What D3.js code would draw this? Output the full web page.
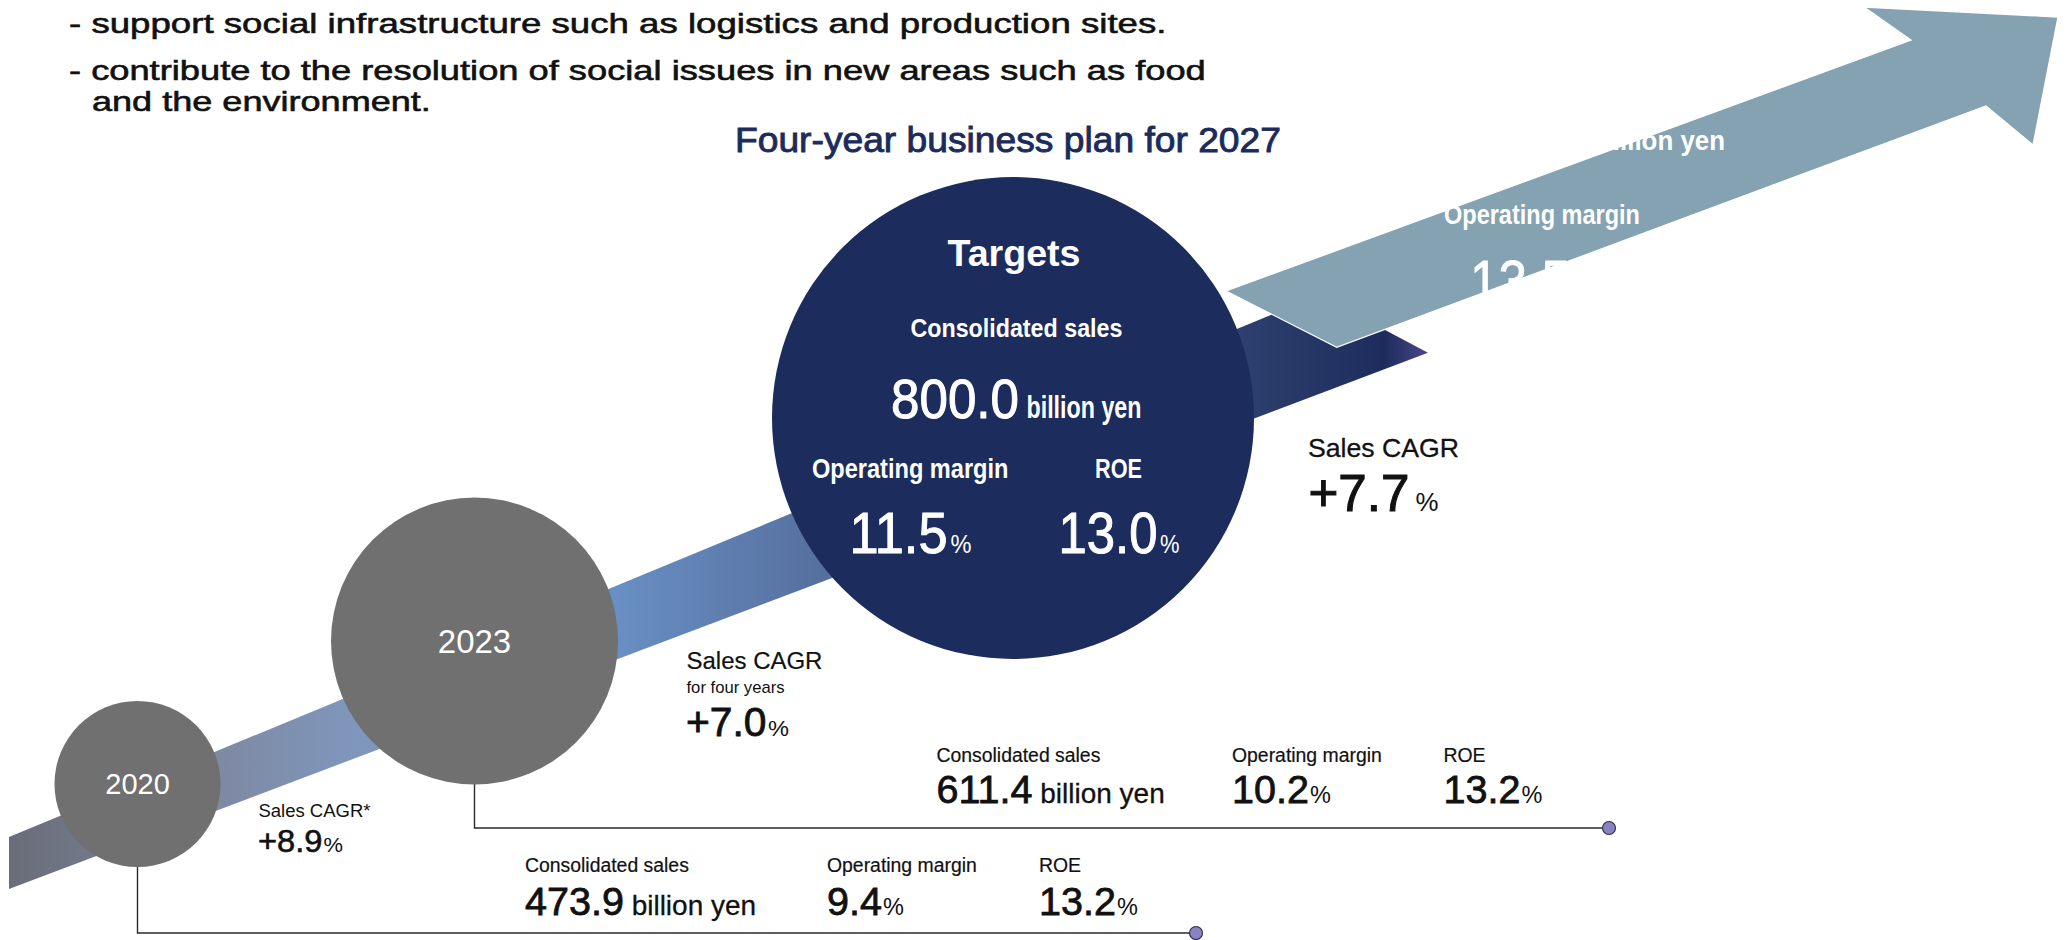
<!DOCTYPE html>
<html>
<head>
<meta charset="utf-8">
<script src="https://cdn.jsdelivr.net/npm/d3@7"></script>
<style>
  html, body { margin: 0; padding: 0; background: #fff; }
  svg { display: block; }
</style>
</head>
<body>
<svg id="chart" width="2066" height="940"></svg>
<script>
// ---------- data ----------
const stages = ["2020", "2023", "2027"];
const consolidatedSales = [473.9, 611.4, 800.0];   // billion yen
const operatingMargin = [9.4, 10.2, 11.5];         // %
const roe = [13.2, 13.2, 13.0];                    // %
const cagrLabels = ["Sales CAGR*", "Sales CAGR", "Sales CAGR"];
const cagrNotes = ["", "for four years", ""];
const cagrValues = [8.9, 7.0, 7.7];                // %
const metricNames = ["Consolidated sales", "Operating margin", "ROE"];
const salesUnit = "billion yen";
const bulletLines = [
  "- support social infrastructure such as logistics and production sites.",
  "- contribute to the resolution of social issues in new areas such as food",
  "and the environment."
];
const planTitle = "Four-year business plan for 2027";
const targetHeading = "Targets";
const visionLabels = ["billion yen", "Operating margin"];
const visionMargin = [13.5];

// ---------- setup ----------
const svg = d3.select("#chart");
const FONT = "'Liberation Sans', Arial, Helvetica, sans-serif";
const fmt1 = d3.format(".1f");
const fmtSigned = d3.format("+.1f");

// stage bubbles: centre and radius per stage
const cx = d3.scaleOrdinal().domain(stages).range([137.5, 474.5, 1013]);
const cy = d3.scaleOrdinal().domain(stages).range([784, 641, 418]);
const rad = d3.scaleOrdinal().domain(stages).range([83, 143.5, 241]);
const bubbleFill = d3.scaleOrdinal().domain(stages).range(["#707070", "#707070", "#1c2c5c"]);

// text helper; `width` squeezes or stretches the run horizontally to a set advance
function txt(parent, s, x, y, o = {}) {
  const t = parent.append("text")
    .attr("x", 0).attr("y", 0)
    .attr("font-family", FONT)
    .attr("font-size", o.size)
    .attr("fill", o.fill || "#111")
    .attr("text-anchor", o.anchor || "start")
    .text(s);
  if (o.weight) t.attr("font-weight", o.weight);
  if (o.stroke) t.attr("stroke", o.fill || "#111").attr("stroke-width", o.stroke).attr("paint-order", "stroke");
  let k = 1;
  if (o.width) {
    const natural = t.node().getComputedTextLength();
    if (natural > 0) k = o.width / natural;
  }
  t.attr("transform", `translate(${x},${y}) scale(${k},1)`);
  return t;
}

// ---------- heading text ----------
const head = svg.append("g");
txt(head, bulletLines[0], 69, 33, { size: 28.5, width: 1098, stroke: 0.6 });
txt(head, bulletLines[1], 69, 80, { size: 28.5, width: 1137, stroke: 0.6 });
txt(head, bulletLines[2], 92, 111, { size: 28.5, width: 339, stroke: 0.6 });
txt(head, planTitle, 735, 152, { size: 35.5, width: 546, fill: "#1c2b5b", stroke: 0.9 });

// ---------- growth ribbon ----------
const defs = svg.append("defs");
const grad = defs.append("linearGradient")
  .attr("id", "ribbonGrad")
  .attr("gradientUnits", "userSpaceOnUse")
  .attr("x1", 9).attr("y1", 0).attr("x2", 1428).attr("y2", 0);
const gx = d3.scaleLinear().domain([9, 1428]).range([0, 1]);
[[9, "#6a6d79"], [215, "#7e89a2"], [360, "#7f97bd"], [600, "#6a91c6"],
 [800, "#5873a2"], [1010, "#3d5488"], [1240, "#2e406f"], [1385, "#1d2c5c"], [1428, "#4b478c"]]
  .forEach(([x, c]) => grad.append("stop").attr("offset", gx(x)).attr("stop-color", c));

const ribbonTop = d3.scaleLinear().domain([9, 1319]).range([837, 295]);
const ribbonBottom = d3.scaleLinear().domain([9, 1428]).range([889, 352.7]);
const ribbonPts = [
  [9, ribbonTop(9)], [1319, ribbonTop(1319)],
  [1428, ribbonBottom(1428)], [9, ribbonBottom(9)]
];
svg.append("path")
  .attr("d", d3.line()(ribbonPts) + "Z")
  .attr("fill", "url(#ribbonGrad)");

// ---------- connectors from bubbles to metric rows ----------
const rowLayout = [
  { lineY: 933, dotX: 1196, labelY: 872.3, valueY: 915, cols: [525, 827, 1039] },
  { lineY: 828, dotX: 1609, labelY: 761.5, valueY: 803, cols: [936.5, 1232, 1443.5] }
];
const conn = svg.append("g");
rowLayout.forEach((r, i) => {
  const s = stages[i];
  conn.append("path")
    .attr("d", `M${cx(s)},${cy(s) + rad(s) - 2}V${r.lineY}H${r.dotX}`)
    .attr("fill", "none").attr("stroke", "#2a2a2a").attr("stroke-width", 1.4);
  conn.append("circle")
    .attr("cx", r.dotX).attr("cy", r.lineY).attr("r", 6.5)
    .attr("fill", "#8882c2").attr("stroke", "#2e2e3e").attr("stroke-width", 1.1);
});

// ---------- bubbles ----------
svg.append("g").selectAll("circle")
  .data(stages)
  .join("circle")
  .attr("cx", d => cx(d)).attr("cy", d => cy(d)).attr("r", d => rad(d))
  .attr("fill", d => bubbleFill(d));

// ---------- long-term arrow ----------
const arrowPts = [[1226, 291], [1911, 40], [1864, 7], [2058, 17], [2033, 145], [1986, 106], [1336.7, 347.3]];
svg.append("path")
  .attr("d", d3.line()(arrowPts) + "Z")
  .attr("fill", "#84a2b2")
  .attr("stroke", "#ffffff").attr("stroke-width", 1.3).attr("stroke-linejoin", "miter");

// white figures that show only over the arrow
const vision = svg.append("g");
txt(vision, visionLabels[0], 1725, 150, { size: 27, width: 128, fill: "#fff", anchor: "end", weight: "bold" });
txt(vision, visionLabels[1], 1444, 224, { size: 28, width: 196, fill: "#fff", weight: "bold" });
txt(vision, fmt1(visionMargin[0]), 1470, 300.6, { size: 56.7, width: 100, fill: "#fff", stroke: 0.8 });

// ---------- bubble captions ----------
const cap = svg.append("g");
txt(cap, stages[0], cx(stages[0]), 794, { size: 29, fill: "#fff", anchor: "middle" });
txt(cap, stages[1], cx(stages[1]), 653, { size: 33, fill: "#fff", anchor: "middle" });

// target bubble contents
const tgt = svg.append("g");
txt(tgt, targetHeading, 1014, 266, { size: 36, width: 133, fill: "#fff", anchor: "middle", weight: "bold" });
txt(tgt, metricNames[0], 910.5, 336.7, { size: 26, width: 212, fill: "#fff", weight: "bold" });
txt(tgt, fmt1(consolidatedSales[2]), 891, 417.7, { size: 55.5, width: 128, fill: "#fff", stroke: 1 });
txt(tgt, salesUnit, 1026.5, 417.7, { size: 30.5, width: 115, fill: "#fff", weight: "bold" });
txt(tgt, metricNames[1], 812, 478.3, { size: 28, width: 196.5, fill: "#fff", weight: "bold" });
txt(tgt, metricNames[2], 1095, 478.3, { size: 28, width: 47, fill: "#fff", weight: "bold" });
txt(tgt, fmt1(operatingMargin[2]), 849.5, 553.3, { size: 56.7, width: 98, fill: "#fff", stroke: 1 });
txt(tgt, "%", 950.5, 553.3, { size: 26, width: 21, fill: "#fff" });
txt(tgt, fmt1(roe[2]), 1058.5, 553.3, { size: 56.7, width: 99, fill: "#fff", stroke: 1 });
txt(tgt, "%", 1160, 553.3, { size: 26, width: 19.5, fill: "#fff" });

// ---------- CAGR call-outs ----------
const cg = svg.append("g");
// 2020 -> 2023
txt(cg, cagrLabels[0], 258.5, 817.3, { size: 18.5, width: 112 });
txt(cg, fmtSigned(cagrValues[0]), 258, 851.7, { size: 31, width: 64.5, stroke: 0.6 });
txt(cg, "%", 323.5, 851.7, { size: 21, width: 19.5 });
// 2023 -> 2027
txt(cg, cagrLabels[1], 686.5, 669, { size: 23.6, width: 136, stroke: 0.2 });
txt(cg, cagrNotes[1], 686.5, 692.7, { size: 16.4, width: 98 });
txt(cg, fmtSigned(cagrValues[1]), 686, 735.7, { size: 40, width: 80.5, stroke: 0.8 });
txt(cg, "%", 768, 735.7, { size: 23, width: 21 });
// 2027 -> vision
txt(cg, cagrLabels[2], 1308, 456.7, { size: 26.3, width: 151, stroke: 0.3 });
txt(cg, fmtSigned(cagrValues[2]), 1308.5, 510.7, { size: 52, width: 101, stroke: 1.1 });
txt(cg, "%", 1415.5, 510.7, { size: 25, width: 23 });

// ---------- metric rows for 2020 and 2023 ----------
const rows = svg.append("g");
rowLayout.forEach((r, i) => {
  const [c0, c1, c2] = r.cols;
  txt(rows, metricNames[0], c0, r.labelY, { size: 19.4, stroke: 0.2 });
  txt(rows, metricNames[1], c1, r.labelY, { size: 19.4, stroke: 0.2 });
  txt(rows, metricNames[2], c2, r.labelY, { size: 19.4, stroke: 0.2 });

  const sales = txt(rows, fmt1(consolidatedSales[i]), c0, r.valueY, { size: 39.5, stroke: 0.8 });
  sales.append("tspan").attr("font-size", 28).attr("stroke-width", 0.3).text(" " + salesUnit);

  const om = txt(rows, fmt1(operatingMargin[i]), c1, r.valueY, { size: 39.5, stroke: 0.8 });
  om.append("tspan").attr("font-size", 23.5).attr("stroke-width", 0).attr("dx", 1).text("%");

  const re = txt(rows, fmt1(roe[i]), c2, r.valueY, { size: 39.5, stroke: 0.8 });
  re.append("tspan").attr("font-size", 23.5).attr("stroke-width", 0).attr("dx", 1).text("%");
});
</script>
</body>
</html>
